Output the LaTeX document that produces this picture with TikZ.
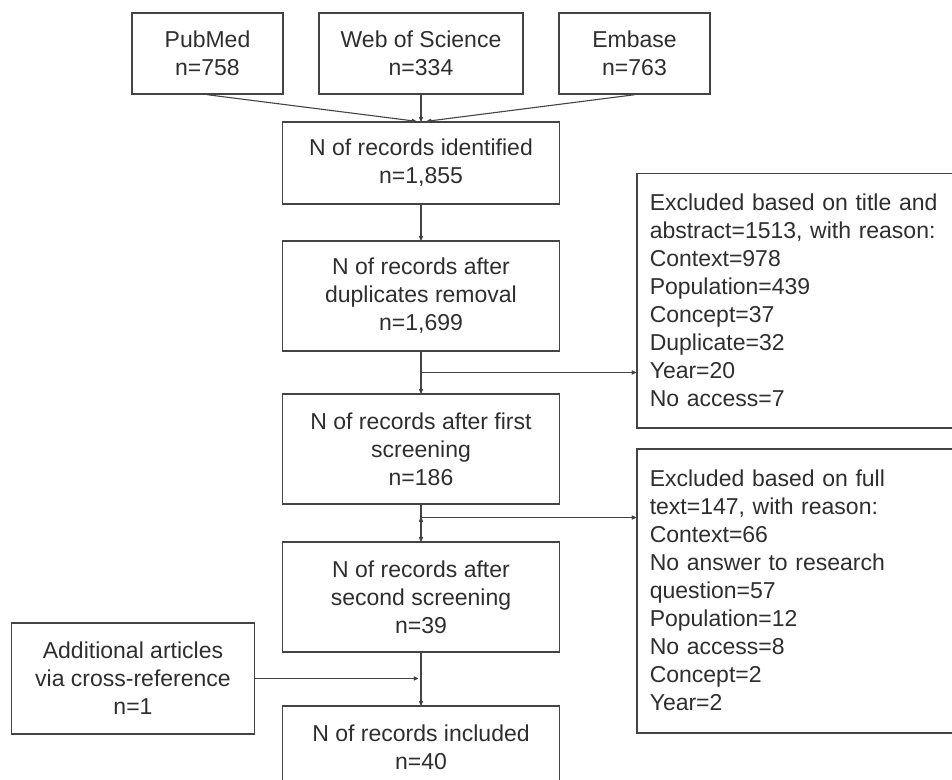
\documentclass[tikz,border=0pt]{standalone}
\usepackage{fontspec}
\setmainfont{Liberation Sans}
\usetikzlibrary{arrows.meta, positioning, calc}
\definecolor{inkgray}{HTML}{2E2E2E}
\definecolor{linegray}{HTML}{444444}

\begin{document}
\begin{tikzpicture}[x=0.5pt,y=-0.5pt,on grid,>={Stealth[round,length=3.2pt,width=2.8pt]},
      every node/.style={font=\fontsize{11.5}{14}\selectfont,text=inkgray},
      record/.style={draw=linegray,line width=0.75pt,align=center,minimum width=138.5pt,minimum height=55pt,inner sep=2pt},
      source/.style={record,minimum width=75.5pt,minimum height=40.5pt},
      excluded/.style={draw=linegray,line width=0.75pt,align=left,text width=150pt,inner xsep=6.5pt,anchor=north west},
      flow/.style={->,draw=linegray,line width=0.55pt}]
      \useasboundingbox (0,0) rectangle (952,780);
      \clip (0,0) rectangle (952,780);
      % databases
      \node[source, minimum width=102pt] (n_wos) at (421,53.5) {Web of Science\\n=334};
      \node[source]    (n_pub) [left=106.75pt of n_wos] {PubMed\\n=758};
      \node[source]    (n_emb) [right=106.75pt of n_wos] {Embase\\n=763};
      % main column
      \node[record, minimum height=41pt] (n_ident) [below=54.75pt of n_wos] {N of records identified\\n=1,855};
      \node[record]    (n_dup) [below=66.5pt of n_ident] {N of records after\\duplicates removal\\n=1,699};
      \node[record]    (n_first) [below=76.5pt of n_dup] {N of records after first\\screening\\n=186};
      \node[record]    (n_second) [below=74pt of n_first] {N of records after\\second screening\\n=39};
      \node[record, minimum height=41pt] (n_incl) [below=75pt of n_second] {N of records included\\n=40};
      \node[record, minimum width=121.5pt, minimum height=55.5pt] (n_add) [below left=40.75pt and 144pt of n_second] {Additional articles\\via cross-reference\\n=1};
      % exclusions
      \node[excluded, minimum height=127pt] (n_ex1) at (636,173) {Excluded based on title and\\abstract=1513, with reason:\\Context=978\\Population=439\\Concept=37\\Duplicate=32\\Year=20\\No access=7};
      \node[excluded, minimum height=142pt] (n_ex2) at (636,448) {Excluded based on full\\text=147, with reason:\\Context=66\\No answer to research\\question=57\\Population=12\\No access=8\\Concept=2\\Year=2};
      \coordinate (c_ex1) at ($(n_dup.south)!0.5!(n_first.north)$);
      \coordinate (c_ex2) at ($(n_first.south)!0.35!(n_second.north)$);
      \path[flow]
      (n_pub.south) edge ([xshift=-2.5pt]n_ident.north)
      (n_wos.south) edge (n_ident.north)
      (n_emb.south) edge ([xshift=3pt]n_ident.north)
      (n_ident) edge (n_dup)
      (n_dup) edge (n_first)
      (n_first) edge (n_second)
      (n_second) edge (n_incl)
      (c_ex1) edge (c_ex1 -| n_ex1.west)
      (c_ex2) edge (c_ex2 -| n_ex2.west);
      \draw[flow, shorten >=1.5pt] (n_add.east) -- (n_add.east -| n_second.south);
    \end{tikzpicture}
\end{document}
